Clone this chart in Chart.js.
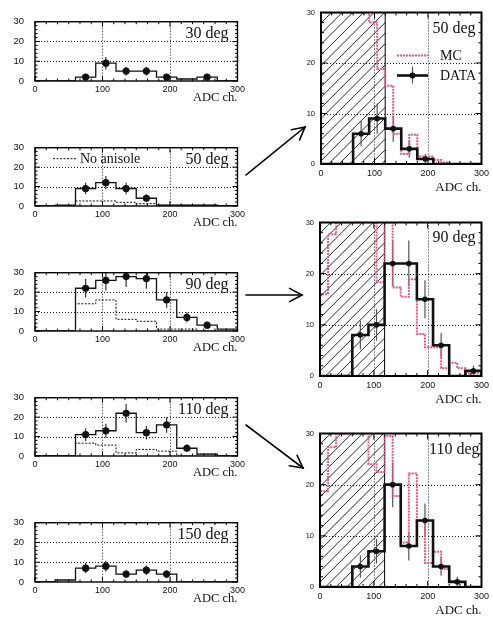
<!DOCTYPE html>
<html>
<head>
<meta charset="utf-8">
<script src="https://cdn.jsdelivr.net/npm/chart.js@4.4.0/dist/chart.umd.min.js"></script>
<style>
    html, body { margin: 0; padding: 0; background: #fff; }
    #fig { position: relative; width: 493px; height: 619px; overflow: hidden; }
    #fig canvas { position: absolute; }
    #arrows { position: absolute; left: 0; top: 0; }
</style>
</head>
<body>
<div id="fig">
    <svg id="arrows" width="493" height="619">
        <g stroke="#000" stroke-width="1.6" fill="none" stroke-linecap="round">
            <line x1="246" y1="175" x2="305" y2="127"/>
            <polyline points="291.3,129.7 305,127 299.6,139.9"/>
            <line x1="246" y1="295" x2="302" y2="295"/>
            <polyline points="289.6,288.4 302,295 289.6,301.6"/>
            <line x1="246" y1="425" x2="303" y2="468"/>
            <polyline points="297.1,455.3 303,468 289.2,465.8"/>
        </g>
    </svg>
</div>
<script>
'use strict';

// ---- data -------------------------------------------------------------
const ADC_TICKS = [0, 100, 200, 300];
const COUNT_TICKS = [0, 10, 20, 30];
const BINS_30 = [0, 30, 60, 90, 120, 150, 180, 210, 240, 270, 300];
const BINS_15 = [0, 15, 30, 45, 60, 75, 90, 105, 120, 135, 150, 165, 180, 195, 210, 225, 240, 255, 270, 285, 300];
const POINT_X = [75, 105, 135, 165, 195, 225, 255, 285];

// left column: with anisole (solid), without anisole (dashed), data points
const hist30 = [0, 0, 2, 9, 5, 5, 2, 1, 2, 0];
const pts30 = [2, 9, 5, 5, 2, null, 2, null];
const err30 = [1.4, 3.2, 2.2, 2.2, 1.4, null, 1.4, null];

const hist50 = [0, 0.5, 9, 12, 9, 4, 0.5, 0.5, 0.5, 0];
const noAnis50 = [0, 0, 2.6, 2.6, 1.9, 1.2, 0.4, 0.4, 0.4, 0];
const pts50 = [9, 12, 9, 4, null, null, null, null];
const err50 = [3, 3.5, 3, 2, null, null, null, null];

const hist90 = [0, 0, 22, 26, 28, 27, 16, 7, 3, 1];
const noAnis90 = [0, 0, 14, 16, 6, 5, 1, 1, 0, 0];
const pts90 = [22, 26, 28, 27, 16, 7, 3, null];
const err90 = [4.7, 5.1, 5.3, 5.2, 4, 2.6, 1.7, null];

const hist110 = [0, 0, 11, 13, 22, 12, 16, 4, 1, 0];
const noAnis110 = [0, 0, 6.6, 5.6, 1.6, 3.4, 2.5, 0, 1, 0];
const pts110 = [11, 13, 22, 12, 16, 4, null, null];
const err110 = [3.3, 3.6, 4.7, 3.5, 4, 2, null, null];

const hist150 = [0, 1, 7, 8, 4, 6, 4, 0, 0, 0];
const pts150 = [7, 8, 4, 6, 4, null, null, null];
const err150 = [2.6, 2.8, 2, 2.4, 2, null, null, null];

// right column: DATA vs MC (MC bins at 30 run off the top of the frame)
const data50 = [0, 0, 6, 9, 7, 3, 1, 0, 0, 0];
const dataPts50 = [6, 9, 7, 3, 1, null, null, null];
const dataErr50 = [2.5, 3, 2.6, 1.7, 1, null, null, null];
const mc50 = [30, 30, 30, 30, 30, 30, 28, 18.8, 15.5, 6, 2, 5.8, 1.5, 1.5, 0.8, 0.3, 0, 0, 0, 0];

const data90 = [0, 0, 8, 10, 22, 22, 15, 6, 0, 1];
const dataPts90 = [8, 10, 22, 22, 15, 6, null, 1];
const dataErr90 = [2.8, 3.1, 4.5, 4.5, 3.7, 2.4, null, 1];
const mc90 = [16, 27.7, 30, 30, 30, 30, 30, 18.3, 30, 17.3, 15.5, 18.9, 8.2, 5.6, 5.6, 1.5, 2.6, 1.5, 0.5, 0.5];

const data110 = [0, 0, 4, 7, 20, 8, 13, 4, 1, 0];
const dataPts110 = [4, 7, 20, 8, 13, 4, 1, null];
const dataErr110 = [2.2, 2.4, 4.4, 2.8, 3.3, 1.8, 1, null];
const mc110 = [18.7, 27.3, 30, 30, 30, 30, 24, 22.5, 29.5, 17.8, 8.7, 22.2, 13, 4.7, 6.9, 3.5, 1.2, 1, 0, 0];

// ---- helpers ----------------------------------------------------------
const SERIF = '"Liberation Serif", "DejaVu Serif", serif';
const SANS = '"Liberation Sans", Arial, sans-serif';
const PINK = '#e4587e';

function histLine(edges, values) {
    const pts = [{ x: edges[0], y: 0 }];
    values.forEach((v, i) => {
        pts.push({ x: edges[i], y: v }, { x: edges[i + 1], y: v });
    });
    pts.push({ x: edges[edges.length - 1], y: 0 });
    return pts;
}

function pointSet(ys, errs) {
    const data = [], errors = [];
    ys.forEach((v, i) => {
        if (v == null) return;
        data.push({ x: POINT_X[i], y: v });
        errors.push(errs[i]);
    });
    return { data, errors };
}

function seg(ctx, x0, y0, x1, y1) {
    ctx.beginPath(); ctx.moveTo(x0, y0); ctx.lineTo(x1, y1); ctx.stroke();
}

const decor = {
    id: 'decor',
    beforeDatasetsDraw(chart, args, o) {
        const { ctx, chartArea: a, scales: { x, y } } = chart;
        ctx.save();
        if (o.cutAt) {
            const xc = x.getPixelForValue(o.cutAt);
            ctx.save();
            ctx.beginPath(); ctx.rect(a.left, a.top, xc - a.left, a.height); ctx.clip();
            ctx.strokeStyle = '#111'; ctx.lineWidth = 0.9;
            for (let sx = a.left - a.height; sx < xc; sx += 10.6) seg(ctx, sx, a.bottom, sx + a.height, a.top);
            ctx.restore();
            ctx.strokeStyle = '#000'; ctx.lineWidth = 1;
            seg(ctx, xc, a.bottom, xc, a.top);
        }
        // dotted grid
        ctx.strokeStyle = '#000'; ctx.lineWidth = 0.9; ctx.setLineDash([1, 2]);
        ADC_TICKS.slice(1, -1).forEach(v => {
            const px = Math.round(x.getPixelForValue(v)) + 0.5;
            seg(ctx, px, a.top, px, a.bottom);
        });
        COUNT_TICKS.slice(1, -1).forEach(v => {
            const py = Math.round(y.getPixelForValue(v)) + 0.5;
            seg(ctx, a.left, py, a.right, py);
        });
        ctx.setLineDash([]);
        // error bars
        ctx.beginPath(); ctx.rect(a.left, a.top, a.width, a.height); ctx.clip();
        ctx.strokeStyle = o.errColor; ctx.lineWidth = 1.2;
        chart.data.datasets.forEach(ds => {
            if (!ds.errors) return;
            ds.data.forEach((p, j) => {
                const e = ds.errors[j];
                if (e == null) return;
                const px = x.getPixelForValue(p.x);
                seg(ctx, px, y.getPixelForValue(p.y - e), px, y.getPixelForValue(p.y + e));
            });
        });
        ctx.restore();
    },
    afterDatasetsDraw(chart, args, o) {
        const { ctx, chartArea: a } = chart;
        ctx.save();
        ctx.strokeStyle = '#000'; ctx.lineWidth = 1;
        // inward ticks on all four sides
        for (let i = 0; i <= o.xDiv; i++) {
            const px = a.left + a.width * i / o.xDiv;
            const len = (i * 3) % o.xDiv === 0 ? o.majorLen : o.minorLen;
            seg(ctx, px, a.bottom, px, a.bottom - len);
            seg(ctx, px, a.top, px, a.top + len);
        }
        for (let i = 0; i <= o.yDiv; i++) {
            const py = a.bottom - a.height * i / o.yDiv;
            const len = (i * 3) % o.yDiv === 0 ? o.majorLen : o.minorLen;
            seg(ctx, a.left, py, a.left + len, py);
            seg(ctx, a.right, py, a.right - len, py);
        }
        ctx.lineWidth = o.frame;
        ctx.strokeRect(a.left, a.top, a.width, a.height);

        ctx.fillStyle = '#111';
        ctx.font = `16px ${SERIF}`;
        ctx.textAlign = 'right'; ctx.textBaseline = 'middle';
        ctx.fillText(o.label, a.right - o.labelDx, a.top + o.labelDy);

        (o.legend || []).forEach(it => {
            const y0 = a.top + it.y;
            if (it.kind === 'dash') {
                ctx.strokeStyle = '#111'; ctx.lineWidth = 1; ctx.setLineDash([2, 1.5]);
            } else if (it.kind === 'mc') {
                ctx.strokeStyle = PINK; ctx.lineWidth = 2; ctx.setLineDash([2, 1]);
            } else {
                ctx.strokeStyle = '#111'; ctx.lineWidth = 2.6; ctx.setLineDash([]);
            }
            seg(ctx, a.left + it.x0, y0, a.left + it.x1, y0);
            ctx.setLineDash([]);
            if (it.kind === 'data') {
                const cx = a.left + (it.x0 + it.x1) / 2;
                ctx.strokeStyle = '#555'; ctx.lineWidth = 1.2;
                seg(ctx, cx, y0 - 9, cx, y0 + 8);
                ctx.fillStyle = '#111';
                ctx.beginPath(); ctx.arc(cx, y0, 3, 0, Math.PI * 2); ctx.fill();
            }
            ctx.fillStyle = '#111';
            ctx.font = `14px ${SERIF}`;
            ctx.textAlign = 'left';
            ctx.fillText(it.text, a.left + it.tx, y0 + 1);
        });
        ctx.restore();
    }
};

function makePanel(g, datasets, deco) {
    const canvas = document.createElement('canvas');
    const h = g.padTop + g.plotH + g.xHeight;
    canvas.width = g.width; canvas.height = h;
    canvas.style.left = g.left + 'px';
    canvas.style.top = (g.plotTop - g.padTop) + 'px';
    canvas.style.width = g.width + 'px';
    canvas.style.height = h + 'px';
    document.getElementById('fig').appendChild(canvas);

    return new Chart(canvas, {
        type: 'line',
        data: { datasets },
        options: {
            responsive: false,
            animation: false,
            events: [],
            layout: { padding: { top: g.padTop, right: g.padRight, left: 0, bottom: 0 } },
            plugins: { legend: { display: false }, tooltip: { enabled: false }, decor: deco },
            scales: {
                x: {
                    type: 'linear', min: 0, max: 300,
                    afterBuildTicks: s => { s.ticks = ADC_TICKS.map(v => ({ value: v })); },
                    afterFit: s => { s.height = g.xHeight; },
                    grid: { display: false, drawTicks: false },
                    border: { display: false },
                    ticks: { autoSkip: false, maxRotation: 0, padding: g.xPad, color: '#111', font: { family: SANS, size: g.xFont } },
                    title: {
                        display: true, text: 'ADC ch.', align: 'end', color: '#111',
                        font: { family: SERIF, size: g.titleSize },
                        padding: { top: 0, bottom: g.titlePadB }
                    }
                },
                y: {
                    type: 'linear', min: 0, max: 30,
                    afterBuildTicks: s => { s.ticks = COUNT_TICKS.map(v => ({ value: v })); },
                    afterFit: s => { s.width = g.yWidth; },
                    grid: { display: false, drawTicks: false },
                    border: { display: false },
                    ticks: { autoSkip: false, padding: g.yPad, color: '#111', font: { family: SANS, size: g.yFont } }
                }
            }
        },
        plugins: [decor]
    });
}

// ---- left column --------------------------------------------------------
const LEFT = { left: 0, width: 248, yWidth: 35, padRight: 9, padTop: 7, xHeight: 28,
               xFont: 9, yFont: 9.5, xPad: 3, yPad: 11, titleSize: 12.5, titlePadB: 3.6 };
const leftDeco = { frame: 1.4, xDiv: 18, yDiv: 15, minorLen: 2.5, majorLen: 5, labelDx: 9, labelDy: 12, errColor: '#333' };

function leftSets(hist, pts, errs, noAnis) {
    const p = pointSet(pts, errs);
    const sets = [
        { data: p.data, errors: p.errors, showLine: false, pointRadius: 3.6, pointBackgroundColor: '#111', pointBorderWidth: 0, order: 0 },
        { data: histLine(BINS_30, hist), borderColor: '#111', borderWidth: 1.3, pointRadius: 0, fill: false, order: 1 }
    ];
    if (noAnis) {
        sets.push({ data: histLine(BINS_30, noAnis), borderColor: '#111', borderWidth: 1, borderDash: [2, 1.5], pointRadius: 0, fill: false, order: 2 });
    }
    return sets;
}

makePanel({ ...LEFT, plotTop: 12, plotH: 69 }, leftSets(hist30, pts30, err30), { ...leftDeco, label: '30 deg' });
makePanel({ ...LEFT, plotTop: 138, plotH: 68 }, leftSets(hist50, pts50, err50, noAnis50),
    { ...leftDeco, label: '50 deg', legend: [{ kind: 'dash', x0: 18, x1: 42, y: 11, text: 'No anisole', tx: 45 }] });
makePanel({ ...LEFT, plotTop: 263, plotH: 68 }, leftSets(hist90, pts90, err90, noAnis90), { ...leftDeco, label: '90 deg' });
makePanel({ ...LEFT, plotTop: 388, plotH: 68 }, leftSets(hist110, pts110, err110, noAnis110), { ...leftDeco, label: '110 deg' });
makePanel({ ...LEFT, plotTop: 513, plotH: 69 }, leftSets(hist150, pts150, err150), { ...leftDeco, label: '150 deg' });

// ---- right column -------------------------------------------------------
const RIGHT = { left: 300, width: 193, padTop: 7, xHeight: 34,
                xFont: 9, yFont: 7.5, xPad: 4, yPad: 6, titleSize: 13, titlePadB: 2.2 };
const rightDeco = { frame: 2, xDiv: 15, yDiv: 15, minorLen: 3, majorLen: 6, cutAt: 120, labelDx: 6, labelDy: 16, errColor: '#555' };

function rightSets(data, pts, errs, mc) {
    const p = pointSet(pts, errs);
    return [
        { data: p.data, errors: p.errors, showLine: false, pointRadius: 2.8, pointBackgroundColor: '#111', pointBorderWidth: 0, order: 0 },
        { data: histLine(BINS_30, data), borderColor: '#111', borderWidth: 2.6, pointRadius: 0, fill: false, order: 1 },
        { data: histLine(BINS_15, mc), borderColor: PINK, borderWidth: 2, borderDash: [2, 1], pointRadius: 0, fill: false, order: 2 }
    ];
}

makePanel({ ...RIGHT, yWidth: 21, padRight: 9, plotTop: 9, plotH: 155 }, rightSets(data50, dataPts50, dataErr50, mc50),
    { ...rightDeco, label: '50 deg', legend: [
        { kind: 'mc', x0: 76, x1: 107, y: 43, text: 'MC', tx: 119 },
        { kind: 'data', x0: 76, x1: 107, y: 63, text: 'DATA', tx: 119 }
    ] });
makePanel({ ...RIGHT, yWidth: 20, padRight: 10, plotTop: 219, plotH: 157 }, rightSets(data90, dataPts90, dataErr90, mc90),
    { ...rightDeco, label: '90 deg', labelDy: 15 });
makePanel({ ...RIGHT, yWidth: 20, padRight: 10, plotTop: 430, plotH: 157 }, rightSets(data110, dataPts110, dataErr110, mc110),
    { ...rightDeco, label: '110 deg', labelDx: 2 });
</script>
</body>
</html>
